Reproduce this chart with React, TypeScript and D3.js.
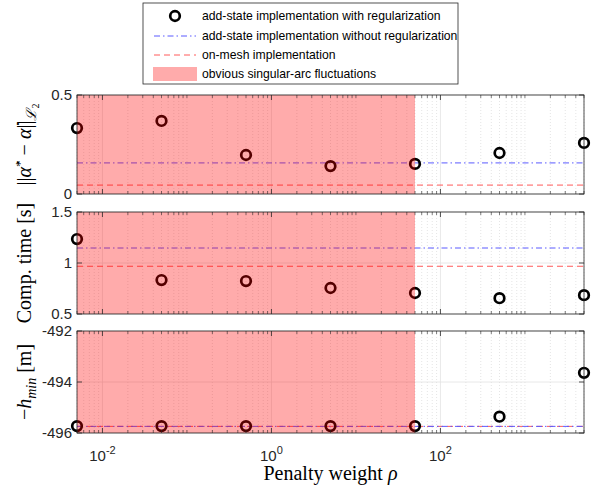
import React, { useEffect } from "react";
import * as d3 from "d3";

// penalty weights
const rho = [0.005, 0.05, 0.5, 5, 50, 500, 5000];
// upper limit of the shaded singular-arc region
const singularEnd = 50;

// L2 error
const errReg = [0.333, 0.369, 0.197, 0.141, 0.152, 0.207, 0.258];
const errNoReg = 0.157;
const errMesh = 0.045;

// computation time [s]
const timeReg = [1.235, 0.833, 0.823, 0.755, 0.706, 0.655, 0.685];
const timeNoReg = 1.147;
const timeMesh = 0.968;

// -h_min [m]
const hReg = [-495.73, -495.73, -495.73, -495.73, -495.73, -495.36, -493.64];
const hNoReg = -495.74;
const hMesh = -495.74;

const yTicks1 = [0, 0.5];
const yTicks2 = [0.5, 1, 1.5];
const yTicks3 = [-496, -494, -492];
const xLabelExps = [-2, 0, 2];

const legendLabels = [
  "add-state implementation with regularization",
  "add-state implementation without regularization",
  "on-mesh implementation",
  "obvious singular-arc fluctuations",
];

const W = 594;
const H = 488;
const left = 77;
const right = 584;
const axisColor = "#262626";
const blue = "#5a5aff";
const red = "#ff5a5a";
const sans = "'Liberation Sans', Arial, sans-serif";
const serif = "'Liberation Serif', 'DejaVu Serif', serif";

const x = d3.scaleLog().domain([0.005, 5000]).range([left, right]);

// minor grid positions: 2..9 x 10^k, plus unlabeled decades
const minorX: number[] = [];
for (let e = -3; e <= 4; e++) {
  for (let m = 1; m <= 9; m++) {
    const v = m * Math.pow(10, e);
    if (v < 0.005 || v > 5000) continue;
    if (m === 1 && xLabelExps.includes(e)) continue;
    minorX.push(v);
  }
}
const majorX = xLabelExps.map((e) => Math.pow(10, e));

const panels = [
  { top: 95, bottom: 194, domain: [0, 0.5], ticks: yTicks1, pts: errReg, noReg: errNoReg, mesh: errMesh },
  { top: 212, bottom: 314, domain: [0.5, 1.5], ticks: yTicks2, pts: timeReg, noReg: timeNoReg, mesh: timeMesh },
  { top: 331, bottom: 433, domain: [-496, -492], ticks: yTicks3, pts: hReg, noReg: hNoReg, mesh: hMesh },
];

const Panel = ({ p, showX }: { p: (typeof panels)[number]; showX: boolean }) => {
  const y = d3.scaleLinear().domain(p.domain).range([p.bottom, p.top]);
  return (
    <g>
      <rect x={left} y={p.top} width={right - left} height={p.bottom - p.top} fill="#fff" />
      {minorX.map((v, i) => (
        <line key={"mg" + i} x1={x(v)} x2={x(v)} y1={p.top} y2={p.bottom} stroke="#d4d4d4" strokeWidth={0.6} strokeDasharray="1,2" />
      ))}
      {majorX.map((v, i) => (
        <line key={"Mg" + i} x1={x(v)} x2={x(v)} y1={p.top} y2={p.bottom} stroke="#e2e2e2" strokeWidth={0.8} />
      ))}
      {p.ticks.map((t, i) => (
        <line key={"yg" + i} x1={left} x2={right} y1={y(t)} y2={y(t)} stroke="#e2e2e2" strokeWidth={0.8} />
      ))}
      <line x1={left} x2={right} y1={y(p.mesh)} y2={y(p.mesh)} stroke={red} strokeWidth={1} strokeDasharray="6,4" />
      <line x1={left} x2={right} y1={y(p.noReg)} y2={y(p.noReg)} stroke={blue} strokeWidth={1} strokeDasharray="6,3,1.5,3" />
      {rho.map((r, i) => (
        <circle key={"pt" + i} cx={x(r)} cy={y(p.pts[i])} r={4.8} fill="none" stroke="#000" strokeWidth={2.7} />
      ))}
      <rect x={left} y={p.top} width={x(singularEnd) - left} height={p.bottom - p.top} fill="#ff0000" fillOpacity={0.33} />
      <rect x={left} y={p.top} width={right - left} height={p.bottom - p.top} fill="none" stroke={axisColor} strokeWidth={0.8} />
      {/* x ticks, top and bottom */}
      {minorX.map((v, i) => (
        <g key={"mt" + i} stroke={axisColor} strokeWidth={0.6}>
          <line x1={x(v)} x2={x(v)} y1={p.bottom} y2={p.bottom - 3} />
          <line x1={x(v)} x2={x(v)} y1={p.top} y2={p.top + 3} />
        </g>
      ))}
      {majorX.map((v, i) => (
        <g key={"Mt" + i} stroke={axisColor} strokeWidth={0.8}>
          <line x1={x(v)} x2={x(v)} y1={p.bottom} y2={p.bottom - 5} />
          <line x1={x(v)} x2={x(v)} y1={p.top} y2={p.top + 5} />
        </g>
      ))}
      {p.ticks.map((t, i) => (
        <g key={"yt" + i}>
          <line x1={left} x2={left + 5} y1={y(t)} y2={y(t)} stroke={axisColor} strokeWidth={0.8} />
          <line x1={right} x2={right - 5} y1={y(t)} y2={y(t)} stroke={axisColor} strokeWidth={0.8} />
          <text x={left - 5} y={y(t)} dy="0.35em" textAnchor="end" fontFamily={sans} fontSize={15} fill={axisColor}>
            {String(t)}
          </text>
        </g>
      ))}
      {showX &&
        xLabelExps.map((e, i) => (
          <text key={"xl" + i} x={x(Math.pow(10, e))} y={p.bottom + 28} textAnchor="middle" fontFamily={sans} fontSize={15} fill={axisColor}>
            10<tspan dy={-7} fontSize={11}>{e}</tspan>
          </text>
        ))}
    </g>
  );
};

const App = () => {
  useEffect(() => {
    document.body.style.margin = "0";
  }, []);

  const c1 = (panels[0].top + panels[0].bottom) / 2;
  const c2 = (panels[1].top + panels[1].bottom) / 2;
  const c3 = (panels[2].top + panels[2].bottom) / 2;
  const rowY = [16, 36, 55, 74];

  return (
    <svg width={W} height={H} style={{ display: "block" }}>
      <rect width={W} height={H} fill="#fff" />
      {panels.map((p, i) => (
        <Panel key={i} p={p} showX={i === 2} />
      ))}

      {/* y labels */}
      <text transform={`translate(31,${c1}) rotate(-90)`} textAnchor="middle" fontFamily={serif} fontSize={20} fill="#000">
        ||<tspan fontStyle="italic">α̇</tspan>
        <tspan dy={-7} fontSize={13}>*</tspan>
        <tspan dy={7}> − </tspan>
        <tspan fontStyle="italic">α̇</tspan>||
        <tspan dy={5} fontSize={14} fontStyle="italic">ℒ</tspan>
        <tspan dy={3} fontSize={10}>2</tspan>
      </text>
      <text transform={`translate(31,${c2}) rotate(-90)`} textAnchor="middle" fontFamily={serif} fontSize={20} fill="#000">
        Comp. time [s]
      </text>
      <text transform={`translate(31,${c3}) rotate(-90)`} textAnchor="middle" fontFamily={serif} fontSize={20} fill="#000">
        −<tspan fontStyle="italic">h</tspan>
        <tspan dy={5} fontSize={14} fontStyle="italic">min</tspan>
        <tspan dy={-5}> [m]</tspan>
      </text>

      {/* x label */}
      <text x={(left + right) / 2} y={480} textAnchor="middle" fontFamily={serif} fontSize={20} fill="#000">
        Penalty weight <tspan fontStyle="italic">ρ</tspan>
      </text>

      {/* legend */}
      <g>
        <rect x={143} y={3} width={315} height={81} fill="#fff" stroke={axisColor} strokeWidth={0.8} />
        <circle cx={175} cy={rowY[0]} r={4.8} fill="none" stroke="#000" strokeWidth={2.7} />
        <line x1={154} x2={196} y1={rowY[1]} y2={rowY[1]} stroke={blue} strokeWidth={1} strokeDasharray="6,3,1.5,3" />
        <line x1={154} x2={196} y1={rowY[2]} y2={rowY[2]} stroke={red} strokeWidth={1} strokeDasharray="6,4" />
        <rect x={153} y={rowY[3] - 7} width={44} height={14} fill="#ff0000" fillOpacity={0.33} />
        {legendLabels.map((l, i) => (
          <text key={i} x={202} y={rowY[i]} dy="0.35em" fontFamily={sans} fontSize={12.2} fill="#000">
            {l}
          </text>
        ))}
      </g>
    </svg>
  );
};

export default App;
